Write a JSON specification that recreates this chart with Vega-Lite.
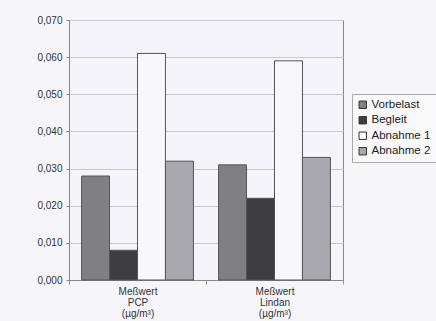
{
  "$schema": "https://vega.github.io/schema/vega-lite/v6.json",
  "autosize": {"type": "none"},
  "width": 274,
  "height": 260,
  "padding": {"left": 69, "top": 20, "right": 93, "bottom": 41},
  "background": "#f6f6fa",
  "data": {
    "values": [
      {"group": "Meßwert|PCP|(µg/m³)", "series": "Vorbelast", "value": 0.028},
      {"group": "Meßwert|PCP|(µg/m³)", "series": "Begleit", "value": 0.008},
      {"group": "Meßwert|PCP|(µg/m³)", "series": "Abnahme 1", "value": 0.061},
      {"group": "Meßwert|PCP|(µg/m³)", "series": "Abnahme 2", "value": 0.032},
      {"group": "Meßwert|Lindan|(µg/m³)", "series": "Vorbelast", "value": 0.031},
      {"group": "Meßwert|Lindan|(µg/m³)", "series": "Begleit", "value": 0.022},
      {"group": "Meßwert|Lindan|(µg/m³)", "series": "Abnahme 1", "value": 0.059},
      {"group": "Meßwert|Lindan|(µg/m³)", "series": "Abnahme 2", "value": 0.033}
    ]
  },
  "mark": {"type": "bar", "stroke": "#555558", "strokeWidth": 1},
  "encoding": {
    "x": {
      "field": "group",
      "type": "nominal",
      "sort": null,
      "scale": {"paddingInner": 0, "paddingOuter": 0},
      "axis": {
        "title": null,
        "labelAngle": 0,
        "labelExpr": "split(datum.label, '|')",
        "labelLineHeight": 11,
        "labelFontSize": 10,
        "labelColor": "#333333",
        "labelPadding": 2,
        "tickBand": "extent",
        "tickSize": 4,
        "tickColor": "#999999",
        "domainColor": "#888888"
      }
    },
    "xOffset": {
      "field": "series",
      "type": "nominal",
      "sort": ["Vorbelast", "Begleit", "Abnahme 1", "Abnahme 2"],
      "scale": {"paddingInner": 0, "paddingOuter": 0.45}
    },
    "y": {
      "field": "value",
      "type": "quantitative",
      "scale": {"domain": [0, 0.07], "nice": false},
      "axis": {
        "title": null,
        "values": [0, 0.01, 0.02, 0.03, 0.04, 0.05, 0.06, 0.07],
        "labelExpr": "replace(format(datum.value, '.3f'), '.', ',')",
        "labelFontSize": 10,
        "labelColor": "#333333",
        "tickSize": 3,
        "tickColor": "#888888",
        "domainColor": "#888888",
        "gridColor": "#c9c9d2",
        "labelPadding": 4
      }
    },
    "color": {
      "field": "series",
      "type": "nominal",
      "sort": ["Vorbelast", "Begleit", "Abnahme 1", "Abnahme 2"],
      "scale": {
        "domain": ["Vorbelast", "Begleit", "Abnahme 1", "Abnahme 2"],
        "range": ["#808084", "#3e3e42", "#f7f7fc", "#a8a8ae"]
      },
      "legend": {
        "title": null,
        "orient": "none",
        "legendX": 283,
        "legendY": 74,
        "symbolType": "square",
        "symbolSize": 55,
        "symbolStrokeColor": "#333333",
        "symbolStrokeWidth": 1,
        "labelFontSize": 11.5,
        "labelColor": "#222222",
        "rowPadding": 2.5,
        "labelOffset": 3,
        "padding": 5,
        "strokeColor": "#aaaaaa",
        "fillColor": "#f9f9fc"
      }
    }
  },
  "config": {
    "font": "Liberation Sans",
    "view": {"stroke": "#888888", "fill": "#f4f4fa"}
  }
}
